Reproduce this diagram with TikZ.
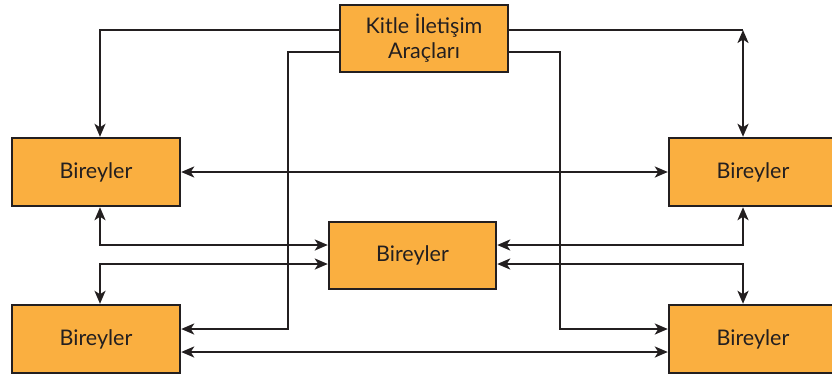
\documentclass[tikz,border=0pt]{standalone}
\usepackage{fontspec}
\setmainfont{Lato}
\usetikzlibrary{arrows.meta}
\definecolor{boxfill}{HTML}{FAAF40}
\definecolor{ink}{HTML}{231F20}
\begin{document}
\begin{tikzpicture}[x=1pt,y=-1pt,
  box/.style={draw=ink, line width=2.4pt, fill=boxfill, inner sep=0pt,
    minimum width=168pt, minimum height=68pt, align=center,
    font=\fontsize{21.5}{25}\selectfont, text=ink},
  link/.style={draw=ink, line width=2.3pt},
  arr/.style={link, -{Stealth[length=13pt,width=11pt,inset=3.5pt]}},
  darr/.style={link, {Stealth[length=13pt,width=11pt,inset=3.5pt]}-{Stealth[length=13pt,width=11pt,inset=3.5pt]}}]
\useasboundingbox (0,0) rectangle (832,378);

% boxes
\node[box, minimum height=67pt] (media) at (424,38.5) {Kitle İletişim\\Araçları};
\node[box] (lt) at (96,172) {Bireyler};
\node[box] (lb) at (96,339) {Bireyler};
\node[box] (rt) at (753,172) {Bireyler};
\node[box] (rb) at (753,339) {Bireyler};
\node[box, minimum width=167pt, minimum height=67pt] (mid) at (412.5,255.5) {Bireyler};

% bend points
\coordinate (cA) at (100,30);
\coordinate (cB) at (288,52);
\coordinate (cB2) at (288,329);
\coordinate (cC) at (743,30);
\coordinate (cD) at (560,52);
\coordinate (cD2) at (560,329);
\coordinate (cE) at (100,245);
\coordinate (cF) at (100,264);
\coordinate (cG) at (743,245);
\coordinate (cH) at (743,264);
\coordinate (cI) at (400,352);

% from the media box
\draw[arr] (media.west |- cA) -- (cA) -- (lt.north -| cA);
\draw[arr] (media.west |- cB) -- (cB) -- (cB2) -- (lb.east |- cB2);
\draw[link] (media.east |- cC) -- (cC);
\draw[darr] (cC) -- (rt.north -| cC);
\draw[arr] (media.east |- cD) -- (cD) -- (cD2) -- (rb.west |- cD2);

% between individuals
\draw[darr] (lt.east) -- (rt.west);
\draw[darr] (lt.south -| cE) -- (cE) -- (mid.west |- cE);
\draw[darr] (mid.west |- cF) -- (cF) -- (lb.north -| cF);
\draw[darr] (mid.east |- cG) -- (cG) -- (rt.south -| cG);
\draw[darr] (mid.east |- cH) -- (cH) -- (rb.north -| cH);
\draw[darr] (lb.east |- cI) -- (rb.west |- cI);
\end{tikzpicture}
\end{document}
